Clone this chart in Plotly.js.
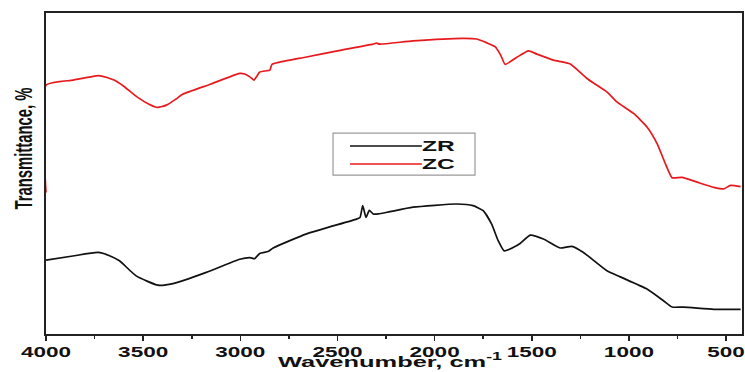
<!DOCTYPE html>
<html>
<head>
<meta charset="utf-8">
<script src="https://cdn.plot.ly/plotly-3.0.1.min.js"></script>
<style>html,body{margin:0;padding:0;background:#fff;}#chart{width:745px;height:372px;}</style>
</head>
<body>
<div id="chart"></div>
<script>
// ZC (red) spectrum: wavenumber (cm-1) and transmittance (arbitrary %)
const zcWavenumber = [4000, 4000, 3860, 3730, 3690, 3650, 3600, 3530, 3470, 3426, 3380, 3329, 3297, 3150, 3003, 2977, 2951, 2930, 2915, 2900, 2865, 2848, 2837, 2797, 2659, 2500, 2317, 2300, 2282, 2111, 1853, 1783, 1731, 1689, 1660, 1637, 1577, 1517, 1474, 1388, 1302, 1216, 1113, 1062, 976, 907, 855, 812, 778, 727, 649, 563, 512, 477, 425];
const zcTransmittance = [44.1, 77.5, 79.1, 80.5, 80.0, 79.1, 77.2, 73.8, 71.6, 70.6, 71.3, 73.3, 74.7, 77.9, 81.2, 81.0, 80.1, 79.1, 80.3, 81.6, 82.0, 82.2, 84.0, 84.7, 86.3, 88.2, 90.3, 90.6, 90.3, 91.3, 92.1, 91.9, 90.7, 89.5, 86.9, 84.0, 86.2, 88.2, 87.2, 85.3, 84.1, 79.6, 75.4, 72.3, 68.7, 64.5, 59.3, 53.0, 48.7, 48.8, 47.3, 45.7, 45.2, 46.3, 45.9];

// ZR (black) spectrum
const zrWavenumber = [4000, 3862, 3733, 3673, 3622, 3536, 3424, 3347, 3175, 3003, 2951, 2926, 2900, 2857, 2831, 2659, 2402, 2384, 2370, 2353, 2336, 2316, 2290, 2230, 2111, 1888, 1802, 1750, 1707, 1673, 1642, 1594, 1560, 1508, 1440, 1354, 1294, 1234, 1113, 1045, 907, 821, 778, 718, 563, 425];
const zrTransmittance = [23.0, 24.3, 25.4, 24.4, 22.8, 18.1, 15.2, 15.7, 19.2, 23.3, 23.8, 23.5, 25.1, 25.7, 26.8, 31.2, 35.8, 36.3, 40.0, 36.3, 38.5, 37.4, 37.4, 38.1, 39.5, 40.5, 40.0, 38.4, 34.3, 29.1, 25.9, 27.0, 28.2, 30.8, 29.6, 26.8, 27.3, 25.4, 19.7, 17.8, 14.0, 10.3, 8.4, 8.4, 7.7, 7.7];

const seriesNames = ['ZR', 'ZC'];
const seriesColors = ['#111111', '#e8191c'];
const xTickValues = [4000, 3500, 3000, 2500, 2000, 1500, 1000, 500];
const xTitle = 'Wavenumber, cm<sup>-1</sup>';
const yTitle = 'Transmittance, %';

const traces = [
  {x: zrWavenumber, y: zrTransmittance, name: seriesNames[0], type: 'scatter', mode: 'lines',
   line: {color: seriesColors[0], width: 1.7, shape: 'spline', smoothing: 0.5}},
  {x: zcWavenumber, y: zcTransmittance, name: seriesNames[1], type: 'scatter', mode: 'lines',
   line: {color: seriesColors[1], width: 1.7, shape: 'spline', smoothing: 0.5}}
];

const FONT = 'Liberation Sans, Arial, sans-serif';

// custom legend (box, line samples, labels) in paper coordinates
const legendBox = {x0: 0.4124, x1: 0.6164, y0: 0.495, y1: 0.626};
const legendRowsY = [0.5857, 0.5296];
const legendLineX = [0.4368, 0.540];
const legendTextX = 0.549;

const shapes = [{type: 'rect', xref: 'paper', yref: 'paper', x0: legendBox.x0, x1: legendBox.x1,
  y0: legendBox.y0, y1: legendBox.y1, line: {color: '#9a9a9a', width: 1.2}, fillcolor: '#ffffff', layer: 'above'}];
const annotations = [];
seriesNames.forEach((n, i) => {
  shapes.push({type: 'line', xref: 'paper', yref: 'paper', x0: legendLineX[0], x1: legendLineX[1],
    y0: legendRowsY[i], y1: legendRowsY[i], line: {color: seriesColors[i], width: 1.4}, layer: 'above'});
  annotations.push({xref: 'paper', yref: 'paper', x: legendTextX, y: legendRowsY[i], xanchor: 'left', yanchor: 'middle',
    text: n, showarrow: false, font: {family: FONT, size: 14, weight: 'bold', color: '#111'}, borderpad: 0});
});
annotations.push({xref: 'paper', yref: 'paper', x: 0, y: 0.576, xanchor: 'center', yanchor: 'middle',
  xshift: -22, textangle: -90, text: yTitle, showarrow: false, borderpad: 0,
  font: {family: FONT, size: 23, weight: 'bold', color: '#111'}});

const layout = {
  width: 745, height: 372,
  margin: {l: 46, r: 3, t: 13, b: 38},
  paper_bgcolor: '#ffffff', plot_bgcolor: '#ffffff',
  font: {family: FONT, color: '#111111'},
  showlegend: false,
  shapes: shapes,
  annotations: annotations,
  xaxis: {
    range: [4000, 418], tickvals: xTickValues, ticks: 'outside', ticklen: 5, tickwidth: 1.6,
    tickcolor: '#222', showline: true, linecolor: '#222', linewidth: 1.8, mirror: true,
    showgrid: false, zeroline: false, layer: 'below traces', ticklabelstandoff: -2,
    tickfont: {size: 15, weight: 'bold', family: FONT, color: '#111'},
    minor: {dtick: 250, ticks: 'outside', ticklen: 3, tickwidth: 1.6, tickcolor: '#222', showgrid: false},
    title: {text: xTitle, standoff: 0,
      font: {size: 15.5, weight: 'bold', family: FONT, color: '#111'}}
  },
  yaxis: {
    range: [0, 100], showticklabels: false, ticks: '', showline: true, linecolor: '#222',
    linewidth: 1.8, mirror: true, showgrid: false, zeroline: false, layer: 'below traces'
  }
};

function stretchText(el, factor, fixedLength) {
  if (!el) return;
  const w = el.getComputedTextLength();
  if (!w) return;
  el.setAttribute('lengthAdjust', 'spacingAndGlyphs');
  el.setAttribute('textLength', (fixedLength || w * factor).toFixed(1));
}

Plotly.newPlot('chart', traces, layout, {displayModeBar: false, staticPlot: true}).then(gd => {
  gd.querySelectorAll('.xtick text').forEach(t => stretchText(t, 1.5));
  const xt = gd.querySelector('.g-xtitle text');
  stretchText(xt, 1.64);
  if (xt) xt.setAttribute('transform', ((xt.getAttribute('transform') || '') + ' translate(-4,-2)').trim());
  const ann = gd.querySelectorAll('.annotation-text');
  if (ann[0]) stretchText(ann[0], 1.75);
  if (ann[1]) stretchText(ann[1], 1.75);
  if (ann[2]) stretchText(ann[2], 0, 122);
});
</script>
</body>
</html>
